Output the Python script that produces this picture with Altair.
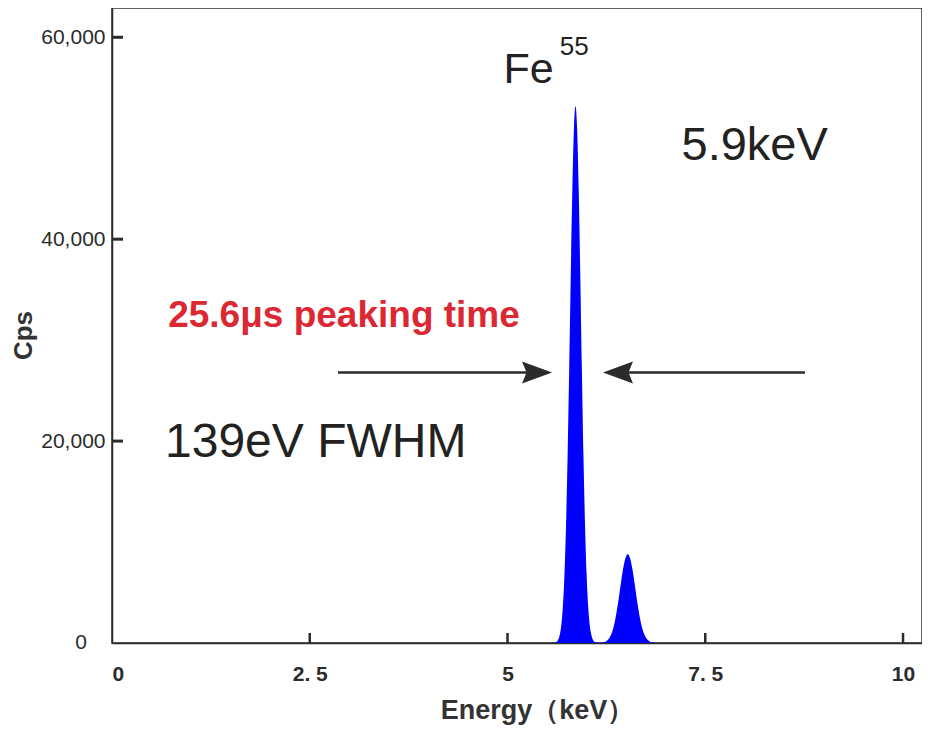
import altair as alt
import pandas as pd

# ---- data ----
energy = [0.0, 5.54, 5.60, 5.63, 5.66, 5.68, 5.70, 5.72, 5.74, 5.76, 5.78, 5.80, 5.82, 5.84,
          5.86, 5.88, 5.90, 5.92, 5.94, 5.96, 5.98, 6.00, 6.02, 6.04, 6.06, 6.09, 6.12, 6.19,
          6.20, 6.24, 6.28, 6.31, 6.34, 6.37, 6.40, 6.43, 6.46, 6.49, 6.52, 6.55, 6.58, 6.61,
          6.64, 6.67, 6.70, 6.73, 6.76, 6.80, 6.84, 6.90, 10.0]
cps = [0, 0, 45, 205, 800, 1770, 3620, 6800, 11700, 18600, 27200, 36500, 45000, 51000,
       53200, 51000, 45000, 36500, 27200, 18600, 11700, 6800, 3620, 1770, 800, 205, 45, 0,
       38, 135, 410, 840, 1570, 2660, 4090, 5720, 7270, 8390, 8800, 8390, 7270, 5720,
       4090, 2660, 1570, 840, 410, 135, 38, 0, 0]

x_tick_values = [0, 2.5, 5, 7.5, 10]
x_tick_labels = ["0", "2. 5", "5", "7. 5", "10"]
y_tick_values = [20000, 40000, 60000]
y_zero_label = ["0"]
y_zero_value = [0]

x_domain = [0, 10.24]
y_domain = [0, 62900]

# annotations
ann_text = ["Fe", "55", "5.9keV", "25.6\u03bcs peaking time", "139eV FWHM"]
ann_x = [4.95, 5.66, 7.2, 0.71, 0.67]
ann_y = [55440, 58210, 47815, 31270, 18400]
ann_size = [43, 26, 47, 37, 48]
ann_weight = ["normal", "normal", "normal", "bold", "normal"]
ann_color = ["#222222", "#222222", "#222222", "#dc2832", "#222222"]

arrow_tail = [2.857, 8.76]
arrow_tip = [5.563, 6.207]
arrow_y = [26800, 26800]

FONT = "Liberation Sans"
DARK = "#2b2b2b"

spec = pd.DataFrame({"energy": energy, "cps": cps})

expr = "datum.label"
for v, l in zip(x_tick_values, x_tick_labels):
    expr = f"datum.value == {v} ? '{l}' : ({expr})"

x_axis = alt.Axis(title="Energy\uff08keV\uff09", values=x_tick_values, labelExpr=expr,
                  grid=False, ticks=False, domainColor=DARK, domainWidth=1.5,
                  labelFont=FONT, labelFontSize=21, labelFontWeight="bold", labelColor="#2b2b2b",
                  labelPadding=20, titleFont=FONT, titleFontSize=27, titleFontWeight="bold",
                  titleColor="#333333", titlePadding=13, titleX=425)
y_axis = alt.Axis(title="Cps", values=y_tick_values, format=",d",
                  grid=False, ticks=False, domainColor=DARK, domainWidth=1.5,
                  labelFont=FONT, labelFontSize=21, labelColor="#2b2b2b", labelPadding=7,
                  titleFont=FONT, titleFontSize=26, titleFontWeight="bold", titleColor="#333333",
                  titlePadding=4, titleY=327)

def X(field):
    return alt.X(field, type="quantitative", scale=alt.Scale(domain=x_domain, nice=False, zero=False),
                 axis=x_axis)

def Y(field):
    return alt.Y(field, type="quantitative", scale=alt.Scale(domain=y_domain, nice=False),
                 axis=y_axis)

area = alt.Chart(spec).mark_area(color="#0000ff", interpolate="monotone").encode(
    x=X("energy"), y=Y("cps"))

yt = alt.Chart(pd.DataFrame({"v": y_tick_values})).mark_rule(color=DARK, strokeWidth=3).encode(
    y=Y("v"), x=alt.value(0), x2=alt.value(11))
xt = alt.Chart(pd.DataFrame({"v": x_tick_values[1:]})).mark_rule(color=DARK, strokeWidth=2.5).encode(
    x=X("v"), y=alt.value(635), y2=alt.value(625))

zero_lab = alt.Chart(pd.DataFrame({"v": y_zero_value, "t": y_zero_label})).mark_text(
    font=FONT, fontSize=21, color="#2b2b2b", align="right", baseline="middle"
).encode(y=Y("v"), x=alt.value(-25), text="t:N")

layers = [area, yt, xt, zero_lab]

for t, x, y, s, w, c in zip(ann_text, ann_x, ann_y, ann_size, ann_weight, ann_color):
    layers.append(
        alt.Chart(pd.DataFrame({"t": [t], "x": [x], "y": [y]})).mark_text(
            font=FONT, fontSize=s, fontWeight=w, color=c, align="left", baseline="alphabetic"
        ).encode(x=X("x"), y=Y("y"), text="t:N")
    )

arr = pd.DataFrame({"tail": arrow_tail, "tip": arrow_tip, "y": arrow_y,
                    "back": [arrow_tip[0] - 0.3, arrow_tip[1] + 0.3]})
layers.append(alt.Chart(arr).mark_rule(color=DARK, strokeWidth=2.5).encode(
    x=X("tail"), x2="back:Q", y=Y("y")))
layers.append(alt.Chart(arr.iloc[[0]]).mark_point(
    shape="M0,0 L-2,-0.73 L-1.7,0 L-2,0.73 Z", size=900, filled=True, color=DARK, opacity=1,
    strokeWidth=0).encode(x=X("tip"), y=Y("y")))
layers.append(alt.Chart(arr.iloc[[1]]).mark_point(
    shape="M0,0 L2,-0.73 L1.7,0 L2,0.73 Z", size=900, filled=True, color=DARK, opacity=1,
    strokeWidth=0).encode(x=X("tip"), y=Y("y")))

chart = alt.layer(*layers).properties(
    width=810, height=635,
    autosize=alt.AutoSizeParams(type="none"),
    padding={"left": 104, "top": 0, "right": 0, "bottom": 82},
    background="white",
).configure_view(stroke=DARK, strokeWidth=1.5)

chart.save("out.html", embed_options={"renderer": "svg", "actions": False})
